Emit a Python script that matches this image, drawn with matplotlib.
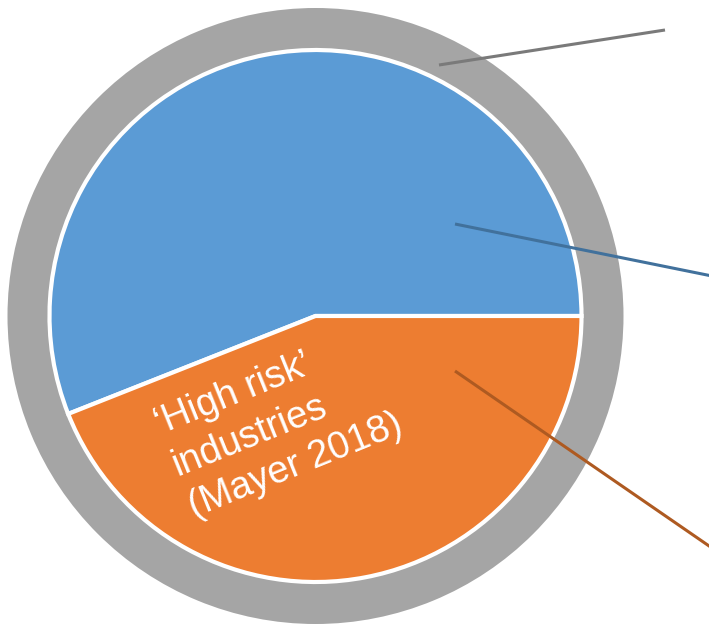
import matplotlib.pyplot as plt

# pie shares (percent)
slice_labels = ['Other industries', "\u2018High risk\u2019 industries"]
slice_values = [56, 44]
slice_colors = ['#5B9BD5', '#ED7D31']
ring_values = [100]
ring_color = '#A5A5A5'

# leader lines running out to labels on the right (pixel coords, y down)
leader_lines = [
    ((439, 65), (665, 30), '#7A7A7A'),
    ((455, 224), (712, 276), '#41719C'),
    ((455, 371), (712, 548), '#AE5A21'),
]

W, H = 709, 624
cx, cy = 315.5, H - 316

fig = plt.figure(figsize=(W / 100, H / 100), dpi=100)
ax = fig.add_axes([0, 0, 1, 1])

# outer grey ring
ax.pie(ring_values, colors=[ring_color], radius=308, center=(cx, cy),
       startangle=90, wedgeprops=dict(width=42, linewidth=0))

# inner pie
ax.pie(slice_values, colors=slice_colors, radius=266, center=(cx, cy),
       startangle=0, counterclock=True,
       wedgeprops=dict(edgecolor='white', linewidth=3))

for (x0, y0), (x1, y1), c in leader_lines:
    ax.plot([x0, x1], [H - y0, H - y1], color=c, linewidth=2.2,
            solid_capstyle='butt')

ax.text(150, H - 409, "\u2018High risk\u2019\nindustries\n(Mayer 2018)",
        color='white', fontsize=27.5, family='Liberation Sans',
        rotation=22, rotation_mode='anchor', ha='left', va='top',
        linespacing=1.3)

ax.set_xlim(0, W)
ax.set_ylim(0, H)
ax.set_aspect('equal')
ax.axis('off')

fig.savefig('out.png', dpi=100)
